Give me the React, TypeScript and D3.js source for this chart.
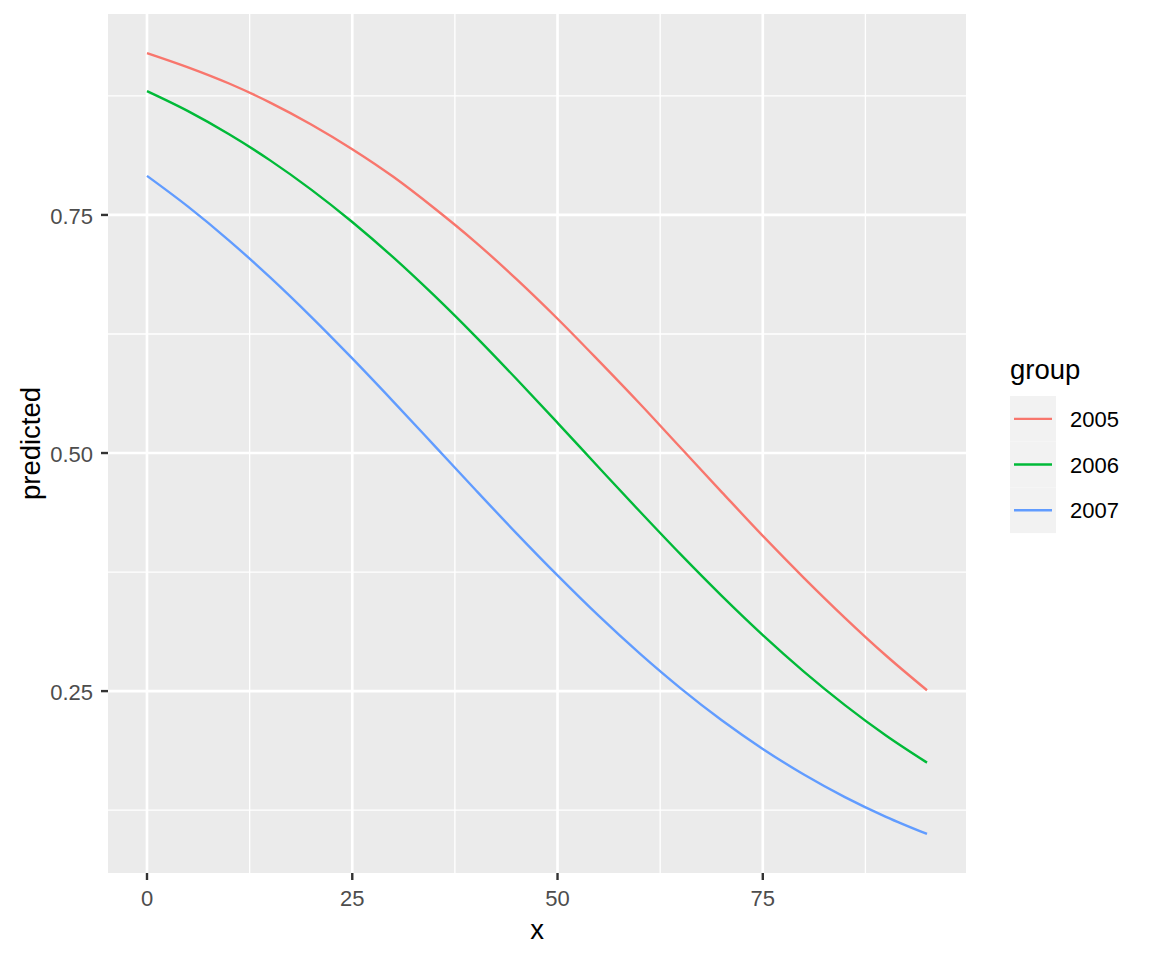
import React from "react";
import * as d3 from "d3";

const xValues = [0, 5, 10, 15, 20, 25, 30, 35, 40, 45, 50, 55, 60, 65, 70, 75, 80, 85, 90, 95];
const groups = ["2005", "2006", "2007"];
const pred2005 = [0.920, 0.905, 0.888, 0.868, 0.845, 0.819, 0.790, 0.757, 0.7215, 0.6826, 0.641, 0.597, 0.552, 0.5055, 0.459, 0.413, 0.369, 0.327, 0.2874, 0.2509];
const pred2006 = [0.880, 0.859, 0.8347, 0.8073, 0.7766, 0.7426, 0.7054, 0.6652, 0.6225, 0.5777, 0.5317, 0.4851, 0.4388, 0.3935, 0.350, 0.3088, 0.2705, 0.2353, 0.2034, 0.1749];
const pred2007 = [0.791, 0.7587, 0.7231, 0.6844, 0.6430, 0.5993, 0.5540, 0.5078, 0.4614, 0.4157, 0.3715, 0.3292, 0.2896, 0.2529, 0.2194, 0.1893, 0.1624, 0.1387, 0.1180, 0.100];
const colors = ["#F8766D", "#00BA38", "#619CFF"];
const xTicks = [0, 25, 50, 75];
const xMinor = [12.5, 37.5, 62.5, 87.5];
const yTicks = [0.25, 0.5, 0.75];
const yTickLabels = ["0.25", "0.50", "0.75"];
const yMinor = [0.125, 0.375, 0.625, 0.875];

const FONT = "'Liberation Sans', Arial, sans-serif";

export default function App() {
  const W = 1152, H = 960;
  const left = 108, right = 966, top = 14, bottom = 873;
  const series = [pred2005, pred2006, pred2007];
  const allY = series.flat();
  const xMin = d3.min(xValues)!, xMax = d3.max(xValues)!;
  const yMin = d3.min(allY)!, yMax = d3.max(allY)!;
  const xPad = (xMax - xMin) * 0.05, yPad = (yMax - yMin) * 0.05;
  const x = d3.scaleLinear().domain([xMin - xPad, xMax + xPad]).range([left, right]);
  const y = d3.scaleLinear().domain([yMin - yPad, yMax + yPad]).range([bottom, top]);
  const line = d3.line<[number, number]>().x(d => x(d[0])).y(d => y(d[1])).curve(d3.curveMonotoneX);

  const legendX = 1010, legendTop = 396, keyH = 45.7, keyW = 46;

  return (
    <svg width={W} height={H} style={{ position: "absolute", left: 0, top: 0, background: "#fff" }} fontFamily={FONT}>
      <rect x={left} y={top} width={right - left} height={bottom - top} fill="#EBEBEB" />
      {xMinor.map(v => <line key={"xm" + v} x1={x(v)} x2={x(v)} y1={top} y2={bottom} stroke="#fff" strokeWidth={1.33} />)}
      {yMinor.map(v => <line key={"ym" + v} y1={y(v)} y2={y(v)} x1={left} x2={right} stroke="#fff" strokeWidth={1.33} />)}
      {xTicks.map(v => <line key={"xM" + v} x1={x(v)} x2={x(v)} y1={top} y2={bottom} stroke="#fff" strokeWidth={2.67} />)}
      {yTicks.map(v => <line key={"yM" + v} y1={y(v)} y2={y(v)} x1={left} x2={right} stroke="#fff" strokeWidth={2.67} />)}
      {series.map((s, i) => (
        <path key={groups[i]} d={line(xValues.map((xv, j) => [xv, s[j]] as [number, number]))!} fill="none" stroke={colors[i]} strokeWidth={2.4} />
      ))}
      {xTicks.map(v => (
        <g key={"xt" + v}>
          <line x1={x(v)} x2={x(v)} y1={bottom} y2={bottom + 7} stroke="#333333" strokeWidth={2.4} />
          <text x={x(v)} y={906} textAnchor="middle" fontSize={22} fill="#4D4D4D">{v}</text>
        </g>
      ))}
      {yTicks.map((v, i) => (
        <g key={"yt" + v}>
          <line x1={left - 7} x2={left} y1={y(v)} y2={y(v)} stroke="#333333" strokeWidth={2.4} />
          <text x={93} y={y(v) + 9} textAnchor="end" fontSize={22} fill="#4D4D4D">{yTickLabels[i]}</text>
        </g>
      ))}
      <text x={(left + right) / 2} y={939} textAnchor="middle" fontSize={27.5} fill="#000">x</text>
      <text transform={`translate(40,${(top + bottom) / 2}) rotate(-90)`} textAnchor="middle" fontSize={27.5} fill="#000">predicted</text>
      <text x={legendX} y={379} fontSize={27.5} fill="#000">group</text>
      {groups.map((g, i) => {
        const cy = legendTop + keyH * i + keyH / 2;
        return (
          <g key={"lg" + g}>
            <rect x={legendX} y={legendTop + keyH * i} width={keyW} height={keyH} fill="#F2F2F2" />
            <line x1={legendX + 4} x2={legendX + keyW - 4} y1={cy} y2={cy} stroke={colors[i]} strokeWidth={2.4} />
            <text x={1070} y={cy + 8} fontSize={22} fill="#000">{g}</text>
          </g>
        );
      })}
    </svg>
  );
}
